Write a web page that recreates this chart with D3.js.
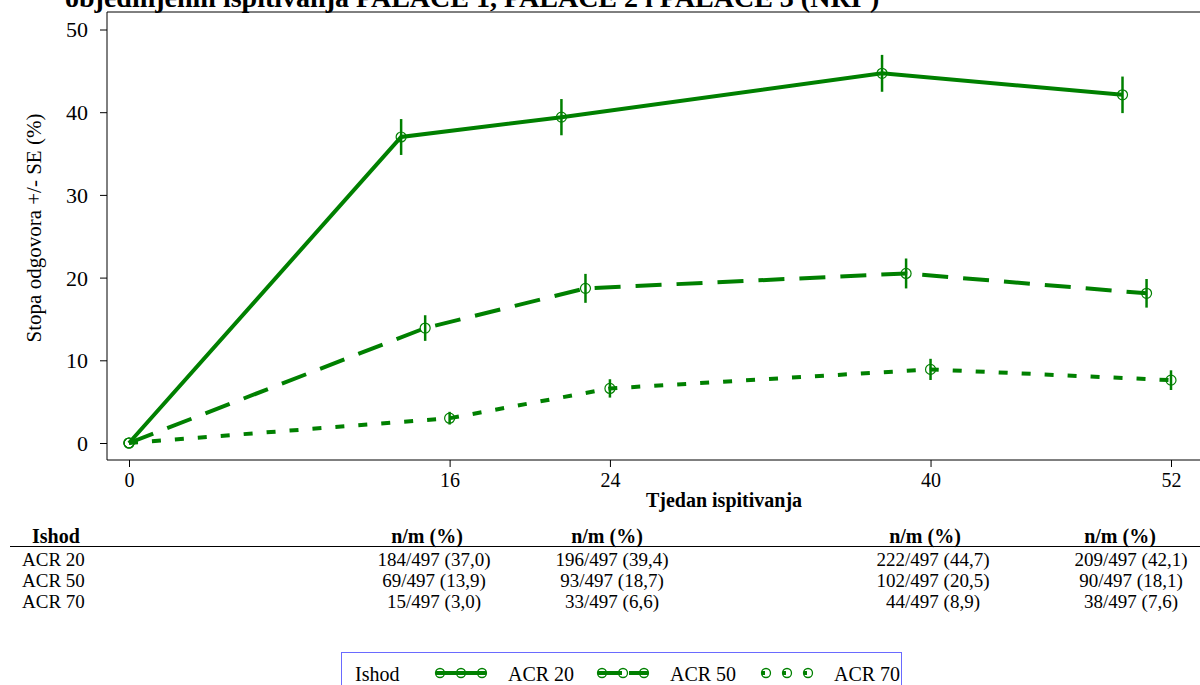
<!DOCTYPE html>
<html><head><meta charset="utf-8">
<script src="https://cdn.jsdelivr.net/npm/d3@7"></script>
<style>
body{margin:0;background:#fff}
svg{display:block}
svg text{font-family:'Liberation Serif',serif !important;fill:#000}
</style></head>
<body><svg id="c" width="1200" height="685" font-family="Liberation Serif"></svg>
<script>
// ---------- data ----------
const weeks = [0, 16, 24, 40, 52];
const seriesNames = ["ACR 20", "ACR 50", "ACR 70"];
const acr20 = [0, 37.0, 39.4, 44.7, 42.1];
const acr50 = [0, 13.9, 18.7, 20.5, 18.1];
const acr70 = [0, 3.0, 6.6, 8.9, 7.6];
const se20 = [0, 2.17, 2.19, 2.23, 2.21];
const se50 = [0, 1.55, 1.75, 1.81, 1.73];
const se70 = [0, 0.77, 1.11, 1.28, 1.19];
const tableWeeks = [16, 24, 40, 52];
const n20 = [184, 196, 222, 209];
const n50 = [69, 93, 102, 90];
const n70 = [15, 33, 44, 38];
const mTotal = 497;
const xTicks = [0, 16, 24, 40, 52];
const yTicks = [0, 10, 20, 30, 40, 50];
const weekShift = [-2.42, -1.22, 0]; // horizontal dodge (weeks) per series, not applied at baseline

const title = "objedinjenih ispitivanja PALACE 1, PALACE 2 i PALACE 3 (NRI";
const yLabel = "Stopa odgovora +/- SE (%)";
const xLabel = "Tjedan ispitivanja";
const legendTitle = "Ishod";
const tableHeader = "n/m (%)";

// ---------- layout ----------
const svg = d3.select("#c");
const green = "#008000";
const FF = "'Liberation Serif', serif";
const frame = {left: 107, top: 12, bottom: 460, right: 1205};
const x = d3.scaleLinear().domain([0, 52]).range([129, 1171]);
const y = d3.scaleLinear().domain([0, 50]).range([443, 29.5]);
const dashes = [null, "26,15", "9,14"];
const vals = [acr20, acr50, acr70];
const ses = [se20, se50, se70];
const ns = [n20, n50, n70];

const T = (sel) => sel.append("text").style("font-family", FF);

// title (clipped at top, as in the source)
const tt = T(svg).attr("x", 65).attr("y", 7)
  .style("font-size", "28px").style("font-weight", "bold");
tt.append("tspan").text(title);
tt.append("tspan").attr("dy", -10).style("font-size", "17px").text("a");
tt.append("tspan").attr("dy", 10).text(")");

// frame
svg.append("path")
  .attr("d", `M${frame.right},${frame.top}H${frame.left}V${frame.bottom}H${frame.right}`)
  .attr("fill", "none").attr("stroke", "#000").attr("stroke-width", 1);

// axes
const ya = svg.append("g").attr("transform", `translate(${frame.left},0)`)
  .call(d3.axisLeft(y).tickValues(yTicks).tickSize(7).tickPadding(12).tickFormat(d3.format("d")));
ya.attr("font-family", null);
ya.select(".domain").remove();
ya.selectAll("text").style("font-family", FF).style("font-size", "22px").attr("dy", "0.34em");
ya.selectAll("line").attr("stroke", "#000");

const xa = svg.append("g").attr("transform", `translate(0,${frame.bottom})`)
  .call(d3.axisBottom(x).tickValues(xTicks).tickSize(7).tickPadding(6).tickFormat(d3.format("d")));
xa.attr("font-family", null);
xa.select(".domain").remove();
xa.selectAll("text").style("font-family", FF).style("font-size", "20px");
xa.selectAll("line").attr("stroke", "#000");

T(svg).attr("transform", `translate(41,228) rotate(-90)`)
  .attr("text-anchor", "middle").style("font-size", "21px").text(yLabel);
T(svg).attr("x", 724).attr("y", 507).attr("text-anchor", "middle")
  .style("font-size", "20px").style("font-weight", "bold").text(xLabel);

// series
const px = (si, i) => x(weeks[i] + (weeks[i] === 0 ? 0 : weekShift[si]));
seriesNames.forEach((name, si) => {
  const pts = weeks.map((w, i) => ({i, v: vals[si][i], se: ses[si][i]}));
  const line = d3.line().x(d => px(si, d.i)).y(d => y(d.v));
  svg.append("path").datum(pts).attr("d", line)
    .attr("fill", "none").attr("stroke", green).attr("stroke-width", 4)
    .attr("stroke-dasharray", dashes[si]);
  const g = svg.append("g");
  g.selectAll("line.err").data(pts.filter(d => d.se > 0)).join("line")
    .attr("x1", d => px(si, d.i)).attr("x2", d => px(si, d.i))
    .attr("y1", d => y(d.v - d.se)).attr("y2", d => y(d.v + d.se))
    .attr("stroke", green).attr("stroke-width", 2.5);
  g.selectAll("circle").data(pts).join("circle")
    .attr("cx", d => px(si, d.i)).attr("cy", d => y(d.v)).attr("r", 5)
    .attr("fill", "none").attr("stroke", green).attr("stroke-width", 1.2);
});

// table
const headerX = [427, 607, 925, 1120];
const valueX = [434, 612, 933, 1131];
const fmt = v => v.toFixed(1).replace(".", ",");
T(svg).attr("x", 32).attr("y", 543).style("font-size", "20px").style("font-weight", "bold").text(legendTitle);
tableWeeks.forEach((w, j) => {
  T(svg).attr("x", headerX[j]).attr("y", 543).attr("text-anchor", "middle")
    .style("font-size", "20px").style("font-weight", "bold").text(tableHeader);
});
svg.append("line").attr("x1", 10).attr("x2", 1200).attr("y1", 546.5).attr("y2", 546.5)
  .attr("stroke", "#000").attr("stroke-width", 1);
const rowY = [565.5, 586.7, 607.9];
seriesNames.forEach((name, si) => {
  T(svg).attr("x", 22).attr("y", rowY[si]).style("font-size", "19px")
    .attr("textLength", null).text(name);
  tableWeeks.forEach((w, j) => {
    const n = ns[si][j];
    T(svg).attr("x", valueX[j]).attr("y", rowY[si]).attr("text-anchor", "middle")
      .style("font-size", "19px").text(`${n}/${mTotal} (${fmt(n / mTotal * 100)})`);
  });
});

// legend
const lg = svg.append("g");
lg.append("rect").attr("x", 341.5).attr("y", 652.5).attr("width", 560).attr("height", 60)
  .attr("fill", "none").attr("stroke", "#6a6aff").attr("stroke-width", 1);
T(lg).attr("x", 355).attr("y", 681).style("font-size", "20px").text(legendTitle);
const legX = [436, 598, 762];
const legDash = [null, "24,7", "3,18"];
seriesNames.forEach((name, si) => {
  const x0 = legX[si], yy = 673;
  lg.append("line").attr("x1", x0).attr("x2", x0 + 50).attr("y1", yy).attr("y2", yy)
    .attr("stroke", green).attr("stroke-width", 4).attr("stroke-dasharray", legDash[si]);
  [0, 21, 42].forEach(o => lg.append("circle").attr("cx", x0 + 4 + o).attr("cy", yy).attr("r", 4.5)
    .attr("fill", "#fff").attr("fill-opacity", 0).attr("stroke", green).attr("stroke-width", 1.3));
  T(lg).attr("x", x0 + 72).attr("y", 681).style("font-size", "20px").text(name);
});
</script></body></html>
